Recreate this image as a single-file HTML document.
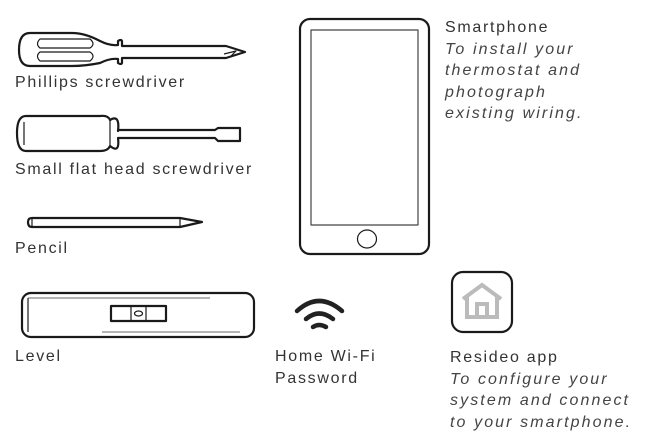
<!DOCTYPE html>
<html><head><style>
body{margin:0;width:650px;height:443px;background:#fff;position:relative;overflow:hidden;font-family:"Liberation Sans",sans-serif;color:#333;}
.t{position:absolute;font-size:16px;letter-spacing:1.7px;line-height:21.5px;white-space:nowrap;}
i{font-style:italic;color:#444;letter-spacing:2.1px;}
svg{position:absolute;left:0;top:0;}
</style></head><body>
<svg width="650" height="443" viewBox="0 0 650 443" fill="none" stroke="#1a1a1a" stroke-width="2.2" stroke-linejoin="round">
<path d="M30 33 H72 Q85 33 100 41 Q110 46 118 45 L118 41 Q121 39 122 41 V46 H226 L245 52 L226 58 H122 V63 Q121 65 118 63 V59 Q110 58 100 63 Q85 66 72 66 H30 Q19 66 19 50 Q19 33 30 33 Z"/>
<path d="M40 39 H90 Q96 44 90 48 H40 Q35 44 40 39 Z M40 52 H90 Q96 56 90 61 H40 Q35 56 40 52 Z" stroke-width="1.2"/>
<path d="M224 54 L236 51 L230 57" stroke-width="1.2"/>
<path d="M26 116 H100 Q108 115 110 120 Q120 114 118 131 V130 H215 L218 128 H240 V141 H218 L215 138 H118 Q120 154 110 146 Q108 151 100 151 H26 Q17 151 17 133 Q17 116 26 116 Z"/>
<path d="M24 122 V145 M110 120 V146" stroke-width="1.2"/>
<path d="M32 218 H180 L202 222 L180 227 H32 Q28 227 28 222 Q28 218 32 218 Z"/>
<path d="M180 218 V227 M32 218 V227" stroke-width="1.2"/>
<rect x="22" y="293" width="232" height="44" rx="9"/>
<path d="M102 332 H240 M28 298 H210" stroke="#888" stroke-width="1.2"/>
<path d="M28 298 V332" stroke-width="1.2"/>
<rect x="111" y="306" width="55" height="15"/>
<path d="M131 306 V321 M146 306 V321" stroke-width="1.2"/>
<ellipse cx="138.5" cy="313.5" rx="4" ry="2.5" stroke-width="1.2"/>
<path d="M297 311 Q319 291 342 311" stroke="#222" stroke-width="4.5" stroke-linecap="round"/>
<path d="M306 319 Q319 308 333 319" stroke="#222" stroke-width="4.5" stroke-linecap="round"/>
<path d="M313 327 Q319 323 326 327" stroke="#222" stroke-width="4.5" stroke-linecap="round"/>
<rect x="300" y="19" width="129" height="235" rx="10"/>
<rect x="311" y="30" width="107" height="195" stroke-width="1.2" stroke="#444"/>
<ellipse cx="367" cy="239" rx="9.5" ry="9" stroke-width="1.2"/>
<rect x="452" y="272" width="60" height="60" rx="11"/>
<path d="M463 299 L482 285 L501 299 M467 296 V317 H497 V296 M477 317 V304 H487 V317" stroke="#bbb" stroke-width="4" stroke-linejoin="miter"/>
</svg>
<div class="t" style="left:15px;top:72px">Phillips screwdriver</div>
<div class="t" style="left:15px;top:159px">Small flat head screwdriver</div>
<div class="t" style="left:15px;top:238px">Pencil</div>
<div class="t" style="left:15px;top:346px">Level</div>
<div class="t" style="left:275px;top:346px">Home Wi-Fi<br>Password</div>
<div class="t" style="left:445px;top:17px">Smartphone<br><i>To install your<br>thermostat and<br>photograph<br>existing wiring.</i></div>
<div class="t" style="left:450px;top:347px">Resideo app<br><i>To configure your<br>system and connect<br>to your smartphone.</i></div>
</body></html>
